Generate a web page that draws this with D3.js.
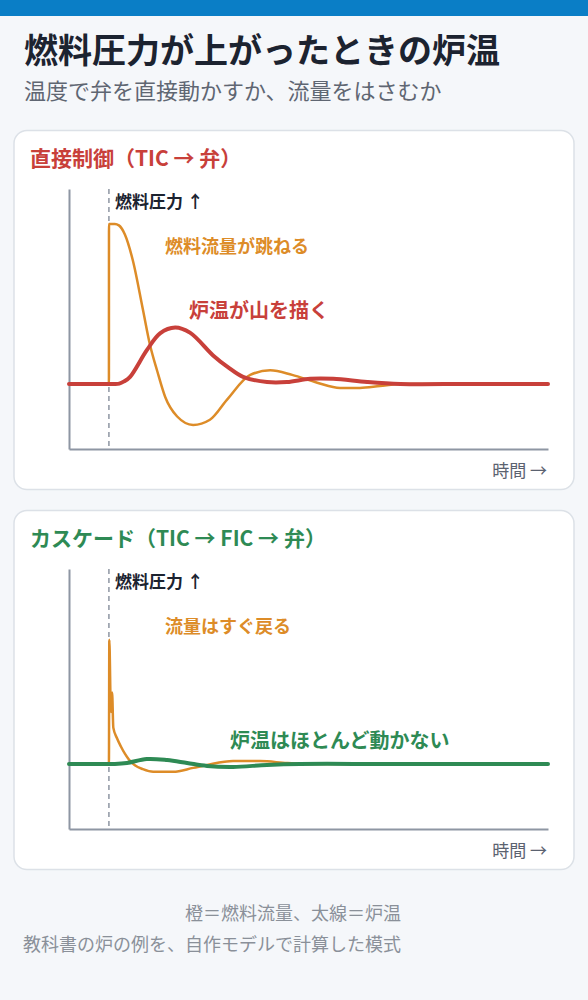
<!DOCTYPE html>
<html lang="ja">
<head>
<meta charset="utf-8">
<script src="https://cdn.jsdelivr.net/npm/d3@7"></script>
<style>
  html, body { margin: 0; padding: 0; background: #f5f7fa; }
  svg { display: block; font-family: "Noto Sans CJK JP", "Noto Sans", sans-serif; }
</style>
</head>
<body>
<div id="grafico"></div>
<script>
// データ（時間は 0〜120 の任意単位、値は基準からの偏差）
const tiempoFlujoDirecto = [0, 10, 10.02, 11.5, 12.5, 14.0, 16.0, 18.5, 20.3, 22.1, 24.1, 27.1, 31.1, 35.3, 39.6, 45.4, 50.4, 55.9, 62.2, 67.9, 72.9, 77.9, 83.0, 120];
const flujoDirecto = [0, 0, 2.46, 2.46, 2.44, 2.30, 1.90, 1.15, 0.60, 0.20, -0.20, -0.50, -0.63, -0.55, -0.24, 0.14, 0.21, 0.14, 0.02, -0.06, -0.06, -0.03, 0, 0];

const tiempoTempDirecto = [0, 6, 11.0, 12.6, 13.8, 15.3, 19.5, 22.8, 26.6, 30.3, 36.1, 39.8, 43.6, 49.6, 54.6, 60.4, 66.2, 74.7, 83.0, 100, 120];
const tempDirecto = [0, 0, 0, 0.005, 0.04, 0.11, 0.52, 0.78, 0.87, 0.79, 0.44, 0.26, 0.11, 0.03, 0.03, 0.08, 0.08, 0.03, 0, 0, 0];

const tiempoFlujoCascada = [0, 10, 10.1, 10.5, 10.8, 11.1, 12.0, 13.0, 14.0, 15.0, 16.5, 18.5, 21.1, 26.1, 31.1, 34.6, 41.1, 47.9, 54.6, 61.2, 120];
const flujoCascada = [0, 0, 1.91, 0.80, 1.10, 0.56, 0.40, 0.27, 0.16, 0.07, -0.02, -0.08, -0.12, -0.12, -0.06, -0.015, 0.045, 0.045, 0.015, 0, 0];

const tiempoTempCascada = [0, 6, 11.5, 14.5, 19.5, 24.6, 29.6, 34.6, 41.1, 49.6, 57.9, 80, 120];
const tempCascada = [0, 0, 0, 0.015, 0.076, 0.06, 0.015, -0.03, -0.045, -0.015, 0, 0, 0];

const tiempoPerturbacion = 10;

const paneles = [
    {
        top: 130,
        titulo: "直接制御（TIC → 弁）",
        color: "#c8403a",
        tFlujo: tiempoFlujoDirecto, flujo: flujoDirecto,
        tTemp: tiempoTempDirecto, temp: tempDirecto,
        etiquetaFlujo: { texto: "燃料流量が跳ねる", x: 165, y: 123 },
        etiquetaTemp: { texto: "炉温が山を描く", x: 189, y: 188 }
    },
    {
        top: 510,
        titulo: "カスケード（TIC → FIC → 弁）",
        color: "#2e8a54",
        tFlujo: tiempoFlujoCascada, flujo: flujoCascada,
        tTemp: tiempoTempCascada, temp: tempCascada,
        etiquetaFlujo: { texto: "流量はすぐ戻る", x: 165, y: 123 },
        etiquetaTemp: { texto: "炉温はほとんど動かない", x: 230, y: 238 }
    }
];

const naranja = "#dd8c28";
const gris = "#8e96a3";

const svg = d3.select("#grafico")
    .append("svg")
    .attr("width", 588)
    .attr("height", 1000);

svg.append("rect").attr("width", 588).attr("height", 1000).attr("fill", "#f5f7fa");
svg.append("rect").attr("width", 588).attr("height", 16).attr("fill", "#0a7ec6");

// タイトル
svg.append("text")
    .attr("x", 24).attr("y", 63)
    .attr("font-size", 34).attr("font-weight", 700)
    .attr("fill", "#1c2330")
    .text("燃料圧力が上がったときの炉温");

svg.append("text")
    .attr("x", 24).attr("y", 99)
    .attr("font-size", 22)
    .attr("fill", "#5f6672")
    .text("温度で弁を直接動かすか、流量をはさむか");

const x = d3.scaleLinear().domain([0, 120]).range([69, 548]);

paneles.forEach(function(p) {
    const g = svg.append("g").attr("transform", `translate(0, ${p.top})`);

    g.append("rect")
        .attr("x", 14).attr("y", 0.5)
        .attr("width", 560).attr("height", 359)
        .attr("rx", 13)
        .attr("fill", "#ffffff")
        .attr("stroke", "#dce1e7")
        .attr("stroke-width", 1.5);

    g.append("text")
        .attr("x", 30).attr("y", 36)
        .attr("font-size", 21).attr("font-weight", 700)
        .attr("fill", p.color)
        .text(p.titulo);

    const y = d3.scaleLinear().domain([-1, 3]).range([319, 59]);

    // 軸（目盛りなし）
    const ejeX = g.append("g")
        .attr("transform", `translate(0, ${y(-1)})`)
        .call(d3.axisBottom(x).ticks(0).tickSizeOuter(0));
    const ejeY = g.append("g")
        .attr("transform", `translate(${x(0)}, 0)`)
        .call(d3.axisLeft(y).ticks(0).tickSizeOuter(0));
    [ejeX, ejeY].forEach(function(e) {
        e.select(".domain").attr("stroke", gris).attr("stroke-width", 2);
    });

    // 外乱の時刻
    g.append("line")
        .attr("x1", x(tiempoPerturbacion)).attr("x2", x(tiempoPerturbacion))
        .attr("y1", y(3)).attr("y2", y(-1))
        .attr("stroke", gris)
        .attr("stroke-width", 1.5)
        .attr("stroke-dasharray", "5,4");

    g.append("text")
        .attr("x", x(tiempoPerturbacion) + 6).attr("y", 78)
        .attr("font-size", 17).attr("font-weight", 700)
        .attr("fill", "#1c2330")
        .text("燃料圧力 ↑");

    const lineaFlujo = d3.line()
        .x(d => x(d[0]))
        .y(d => y(d[1]))
        .curve(d3.curveMonotoneX);

    const lineaTemp = d3.line()
        .x(d => x(d[0]))
        .y(d => y(d[1]))
        .curve(d3.curveCatmullRom.alpha(0.5));

    g.append("path")
        .datum(d3.zip(p.tFlujo, p.flujo))
        .attr("fill", "none")
        .attr("stroke", naranja)
        .attr("stroke-width", 2.5)
        .attr("stroke-linejoin", "round")
        .attr("d", lineaFlujo);

    g.append("path")
        .datum(d3.zip(p.tTemp, p.temp))
        .attr("fill", "none")
        .attr("stroke", p.color)
        .attr("stroke-width", 4)
        .attr("stroke-linecap", "round")
        .attr("d", lineaTemp);

    g.append("text")
        .attr("x", p.etiquetaFlujo.x).attr("y", p.etiquetaFlujo.y)
        .attr("font-size", 18).attr("font-weight", 700)
        .attr("fill", naranja)
        .text(p.etiquetaFlujo.texto);

    g.append("text")
        .attr("x", p.etiquetaTemp.x).attr("y", p.etiquetaTemp.y)
        .attr("font-size", 20).attr("font-weight", 700)
        .attr("fill", p.color)
        .text(p.etiquetaTemp.texto);

    g.append("text")
        .attr("x", 547).attr("y", 347)
        .attr("text-anchor", "end")
        .attr("font-size", 17)
        .attr("fill", "#5b6270")
        .text("時間 →");
});

// 注記
svg.append("text")
    .attr("x", 401).attr("y", 920)
    .attr("text-anchor", "end")
    .attr("font-size", 18)
    .attr("fill", "#8a9099")
    .text("橙＝燃料流量、太線＝炉温");

svg.append("text")
    .attr("x", 401).attr("y", 951)
    .attr("text-anchor", "end")
    .attr("font-size", 18)
    .attr("fill", "#8a9099")
    .text("教科書の炉の例を、自作モデルで計算した模式");
</script>
</body>
</html>
